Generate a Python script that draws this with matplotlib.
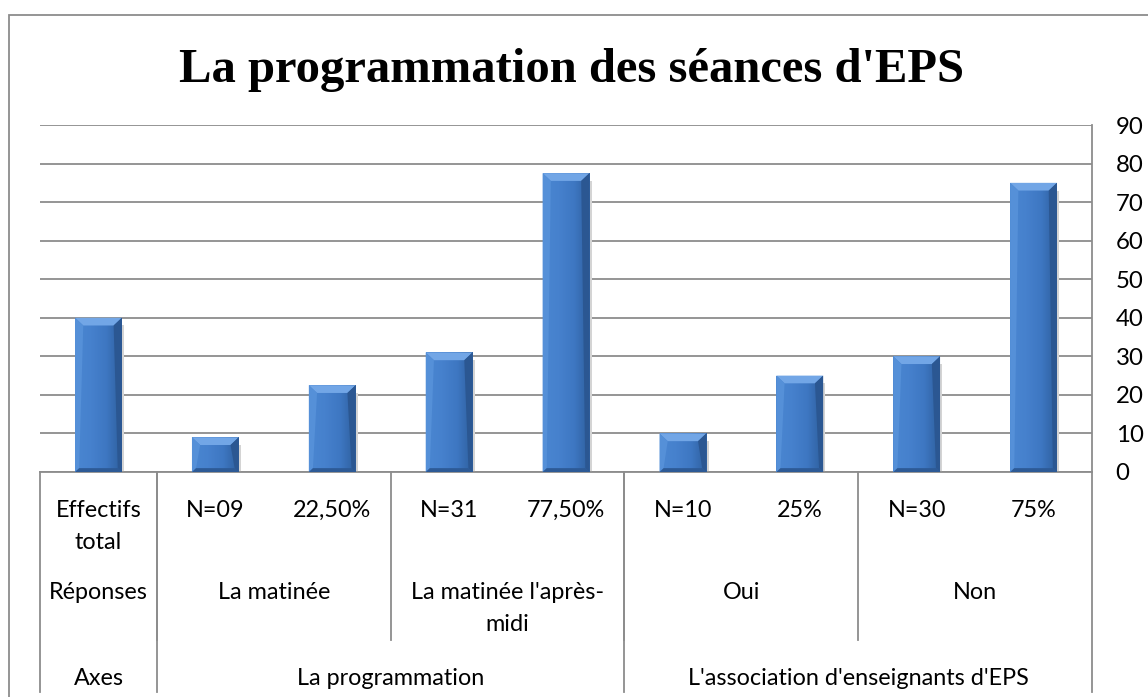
import numpy as np
import matplotlib.pyplot as plt
from matplotlib.patches import Polygon, Rectangle
from matplotlib.colors import LinearSegmentedColormap

# données
categories = ["Effectifs\ntotal", "N=09", "22,50%", "N=31", "77,50%",
              "N=10", "25%", "N=30", "75%"]
values = [40, 9, 22.5, 31, 77.5, 10, 25, 30, 75]
level2_labels = ["Réponses", "La matinée", "La matinée l'après-\nmidi", "Oui", "Non"]
level2_spans = [(0, 0), (1, 2), (3, 4), (5, 6), (7, 8)]
level3_labels = ["Axes", "La programmation", "L'association d'enseignants d'EPS"]
level3_spans = [(0, 0), (1, 4), (5, 8)]
yticks = list(range(0, 100, 10))
title = "La programmation des séances d'EPS"

W, H = 1148, 697
fig = plt.figure(figsize=(W / 100, H / 100), dpi=100)
ax = fig.add_axes([40 / W, 1 - 472 / H, (1092 - 40) / W, (472 - 125) / H])

grey = "#8c8c8c"
font = "Lato"
fs = 16.8

# cadre extérieur (droite et bas hors image)
fig.patches.append(Rectangle((9 / W, -0.05), 1.1, 1 - 15 / H + 0.05,
                             transform=fig.transFigure, fill=False,
                             edgecolor=grey, lw=1.3))

x = np.arange(len(values))
bars = ax.bar(x, values, width=0.4, color="#3d76c2", zorder=3)

# dégradé horizontal + biseau sur les barres
face = LinearSegmentedColormap.from_list(
    "face", ["#4a86d1", "#4681cd", "#3e77c2", "#2f609f"])
grad = np.linspace(0, 1, 64).reshape(1, -1)
bx = 0.035  # largeur du biseau (unités x)
by = 2.0    # hauteur du biseau (unités y)
for b in bars:
    x0, y0 = b.get_x(), b.get_y()
    x1, y1 = x0 + b.get_width(), y0 + b.get_height()
    im = ax.imshow(grad, cmap=face, extent=(x0, x1, y0, y1), aspect="auto",
                   zorder=3.5, interpolation="bilinear")
    im.set_clip_path(b)
    h = min(by, b.get_height() / 3)
    faces = [
        ([(x0, y1), (x1, y1), (x1 - 2 * bx, y1 - h), (x0 + 2 * bx, y1 - h)], "#72a6e6"),
        ([(x0, y0), (x0, y1), (x0 + 2 * bx, y1 - h), (x0 + bx, y0 + h / 2)], "#5590d8"),
        ([(x1, y0), (x1, y1), (x1 - 2 * bx, y1 - h), (x1 - bx, y0 + h / 2)], "#2b5792"),
        ([(x0, y0), (x1, y0), (x1 - bx, y0 + h / 2), (x0 + bx, y0 + h / 2)], "#2d5a96"),
    ]
    for pts, c in faces:
        ax.add_patch(Polygon(pts, closed=True, facecolor=c, edgecolor="none", zorder=4))
    # ombre légère
    ax.add_patch(Rectangle((x1, y0), 0.02, b.get_height() - h, facecolor="#d4d4d4",
                           edgecolor="none", zorder=2))

ax.set_xlim(-0.5, len(values) - 0.5)
ax.set_ylim(0, 90)
ax.set_yticks(yticks)
ax.yaxis.tick_right()
ax.tick_params(axis="y", length=0, pad=17, labelsize=17.3)
for lab in ax.get_yticklabels():
    lab.set_fontfamily(font)
ax.set_xticks([])
ax.grid(axis="y", color=grey, lw=1.3, zorder=0)
ax.set_axisbelow(True)
for s in ["left", "top"]:
    ax.spines[s].set_visible(False)
for s in ["right", "bottom"]:
    ax.spines[s].set_color(grey)
    ax.spines[s].set_linewidth(1.3)

# axe des catégories à plusieurs niveaux
tr = ax.get_xaxis_transform()
px = 1 / (472 - 125)  # un pixel en fraction d'axe
row1_top = -(500 - 472) * px
row2_top = -(582 - 472) * px
row3_top = -(668 - 472) * px
row2_bottom = -(640 - 472) * px
fig_bottom = -(692 - 472) * px
ls = 1.62

for i, lab in enumerate(categories):
    ax.text(i, row1_top, lab, transform=tr, ha="center", va="top",
            fontsize=fs, family=font, linespacing=ls)
for lab, (a, b) in zip(level2_labels, level2_spans):
    ax.text((a + b) / 2, row2_top, lab, transform=tr, ha="center", va="top",
            fontsize=fs, family=font, linespacing=ls)
    if a > 0:
        ax.plot([a - 0.5, a - 0.5], [0, row2_bottom], transform=tr, color=grey,
                lw=1.3, clip_on=False)
for lab, (a, b) in zip(level3_labels, level3_spans):
    ax.text((a + b) / 2, row3_top, lab, transform=tr, ha="center", va="top",
            fontsize=fs, family=font)
    ax.plot([a - 0.5, a - 0.5], [0, fig_bottom], transform=tr, color=grey,
            lw=1.3, clip_on=False)
ax.plot([len(values) - 0.5] * 2, [0, fig_bottom], transform=tr, color=grey,
        lw=1.3, clip_on=False)

fig.text(572 / W, 1 - 82 / H, title, ha="center", va="baseline",
         fontsize=35, fontweight="bold", family="Liberation Serif")

fig.savefig("out.png", dpi=100)
